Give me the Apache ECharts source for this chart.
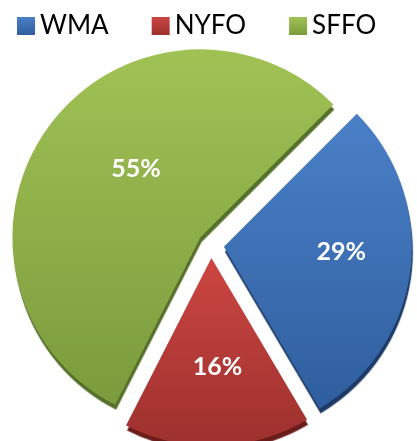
<!DOCTYPE html>
<html>
<head>
<meta charset="utf-8">
<script src="https://cdn.jsdelivr.net/npm/echarts@6/dist/echarts.min.js"></script>
<style>
  html, body { margin: 0; padding: 0; background: #fff; }
  #main { width: 417px; height: 441px; }
</style>
</head>
<body>
<div id="main"></div>
<script>
// data
var categories = ['WMA', 'NYFO', 'SFFO'];
var shares = [29, 16, 55];

// per slice look: gradient top, gradient bottom, side shade
var topColors = ['#4a80c8', '#cc4642', '#a0c255'];
var bottomColors = ['#2f5e9e', '#9d302d', '#7b9b3c'];
var sideColors = ['#1d3a66', '#6a1c1a', '#55702a'];
var labelShift = [[21, -7], [3, 12], [14, -11]];

var myChart = echarts.init(document.getElementById('main'));

var pieData = categories.map(function (name, i) {
  return {
    name: name,
    value: shares[i],
    selected: true,
    itemStyle: {
      color: new echarts.graphic.LinearGradient(0, 0, 0, 1, [
        { offset: 0, color: topColors[i] },
        { offset: 1, color: bottomColors[i] }
      ]),
      shadowColor: sideColors[i],
      shadowOffsetX: 1,
      shadowOffsetY: 5,
      shadowBlur: 1
    }
  };
});

myChart.setOption({
  animation: false,
  color: topColors,
  legend: {
    left: 12,
    top: 8,
    itemWidth: 18,
    itemHeight: 18,
    itemGap: 43,
    icon: 'rect',
    textStyle: {
      fontFamily: 'Lato',
      fontSize: 26,
      color: '#000'
    },
    data: categories
  },
  series: [
    {
      type: 'pie',
      center: [211, 245],
      radius: 188,
      startAngle: 45,
      clockwise: true,
      selectedMode: 'multiple',
      selectedOffset: 13,
      emphasis: { disabled: true },
      label: {
        show: true,
        position: 'inside',
        formatter: '{c}%',
        color: '#fff',
        fontFamily: 'Lato',
        fontWeight: 'bold',
        fontSize: 25
      },
      labelLayout: function (params) {
        var s = labelShift[params.dataIndex];
        return { dx: s[0], dy: s[1] };
      },
      labelLine: { show: false },
      data: pieData
    }
  ]
});
</script>
</body>
</html>
